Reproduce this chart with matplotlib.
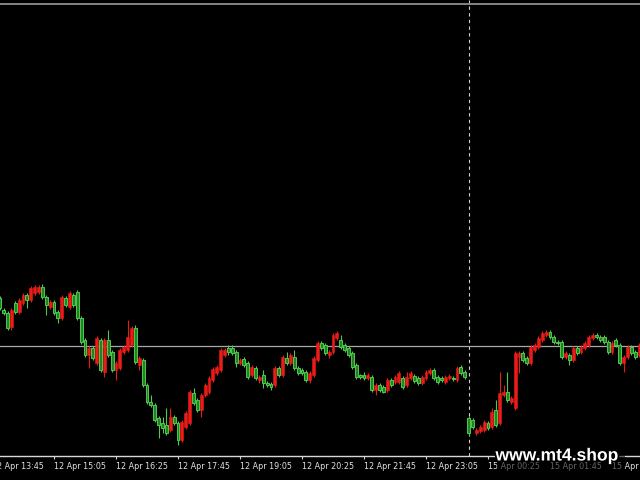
import matplotlib
matplotlib.use("Agg")
import matplotlib.pyplot as plt
import matplotlib.patheffects as pe
from matplotlib.patches import Rectangle
from matplotlib.transforms import blended_transform_factory

# 5 minute bars, index 0 = 12 Apr 13:45, price in points
first_bar = 2
open_ = [182, 170, 167, 153, 177, 168, 177, 185, 180, 187, 188, 193, 183, 173, 178, 168, 162, 182, 173, 185,
         188, 162, 140, 125, 132, 117, 140, 108, 140, 128, 110, 112, 128, 130, 135, 152, 115, 120, 95, 78,
         75, 62, 57, 55, 50, 63, 57, 40, 53, 57, 87, 80, 70, 85, 88, 100, 107, 110, 125, 132,
         132, 128, 117, 121, 117, 105, 112, 100, 105, 97, 96, 95, 112, 105, 122, 117, 123, 112, 110, 108,
         100, 105, 120, 137, 135, 125, 128, 142, 140, 135, 132, 127, 115, 105, 105, 102, 103, 90, 95, 93,
         90, 100, 98, 98, 102, 95, 102, 104, 102, 97, 102, 107, 110, 103, 102, 98, 102, 102, 100, 113,
         108, 62, 60, 47, 49, 50, 57, 53, 70, 57, 85, 88, 78, 72, 123, 127, 122, 117, 130, 133,
         140, 145, 148, 143, 138, 138, 123, 125, 120, 132, 128, 132, 135, 142, 145, 143, 143, 138, 128, 140,
         135, 117, 123, 133, 128, 125]
close = [172, 167, 152, 170, 168, 180, 185, 180, 192, 193, 193, 183, 175, 178, 167, 162, 183, 175, 187, 175,
         162, 138, 125, 132, 122, 142, 110, 140, 125, 110, 117, 130, 133, 143, 152, 118, 122, 95, 78, 75,
         60, 55, 52, 47, 63, 57, 40, 58, 67, 88, 77, 70, 85, 95, 102, 111, 113, 130, 130, 128,
         127, 117, 120, 115, 103, 113, 102, 103, 97, 95, 93, 112, 105, 123, 117, 125, 112, 107, 107, 100,
         107, 122, 137, 132, 127, 128, 145, 147, 133, 130, 125, 113, 103, 103, 102, 105, 90, 95, 90, 88,
         100, 95, 103, 107, 93, 103, 107, 99, 97, 103, 108, 110, 102, 98, 100, 103, 104, 101, 112, 107,
         103, 47, 53, 50, 53, 58, 52, 68, 55, 87, 88, 80, 82, 127, 127, 120, 117, 133, 135, 142,
         147, 148, 143, 138, 137, 123, 127, 120, 132, 127, 133, 137, 143, 145, 143, 140, 138, 128, 137, 135,
         117, 123, 133, 127, 123, 135]
high = [184, 172, 169, 172, 179, 182, 187, 187, 194, 195, 195, 196, 185, 180, 180, 170, 185, 184, 189, 187,
        190, 164, 142, 134, 134, 144, 142, 142, 150, 130, 119, 132, 135, 160, 154, 155, 124, 122, 97, 85,
        77, 64, 63, 72, 72, 65, 59, 60, 69, 90, 92, 82, 87, 97, 104, 113, 115, 132, 132, 135,
        135, 130, 122, 123, 119, 115, 114, 105, 110, 99, 98, 114, 114, 125, 128, 127, 130, 114, 112, 110,
        109, 124, 139, 139, 137, 130, 147, 149, 145, 137, 134, 129, 117, 106, 108, 107, 105, 97, 97, 95,
        102, 102, 105, 109, 104, 108, 109, 106, 104, 105, 110, 112, 112, 105, 104, 105, 106, 104, 114, 115,
        110, 64, 62, 52, 55, 60, 59, 72, 80, 108, 95, 108, 84, 129, 129, 129, 124, 135, 137, 144,
        149, 150, 150, 145, 140, 140, 129, 127, 134, 134, 135, 139, 145, 147, 147, 145, 145, 140, 139, 142,
        137, 125, 135, 135, 130, 137]
low = [170, 165, 150, 150, 166, 166, 175, 172, 178, 185, 186, 181, 165, 171, 165, 157, 160, 173, 171, 173,
       160, 136, 123, 112, 120, 115, 108, 103, 123, 108, 100, 110, 126, 128, 133, 116, 110, 93, 76, 73,
       58, 42, 47, 45, 48, 55, 35, 38, 51, 55, 75, 68, 63, 83, 86, 98, 105, 108, 123, 125,
       125, 113, 115, 113, 101, 103, 100, 97, 92, 93, 90, 93, 103, 103, 115, 115, 110, 105, 105, 98,
       97, 103, 118, 130, 125, 122, 126, 140, 131, 128, 123, 111, 101, 101, 100, 100, 88, 85, 88, 87,
       88, 93, 96, 96, 91, 93, 100, 97, 95, 95, 100, 105, 100, 96, 98, 96, 100, 99, 98, 105,
       101, 44, 51, 45, 47, 48, 50, 51, 53, 55, 83, 78, 76, 70, 107, 118, 115, 115, 128, 131,
       138, 143, 141, 136, 135, 121, 121, 115, 118, 125, 126, 130, 133, 140, 141, 138, 136, 126, 126, 133,
       115, 108, 121, 125, 121, 123]

level = 134
separator_bar = 123
tick_step = 16
tick_labels = ["12 Apr 13:45", "12 Apr 15:05", "12 Apr 16:25", "12 Apr 17:45", "12 Apr 19:05",
               "12 Apr 20:25", "12 Apr 21:45", "12 Apr 23:05", "15 Apr 00:25", "15 Apr 01:45",
               "15 Apr 03:05"]

up_color = "#ea1c17"
down_edge = "#4ccc4c"
down_fill = "#268026"

fig = plt.figure(figsize=(6.4, 4.8), dpi=100, facecolor="black")
ax = fig.add_axes([0, 24 / 480, 1, 456 / 480])
ax.set_facecolor("black")

# separator and level line
ax.axvline(separator_bar, color="#d0d0d0", lw=0.8, ls=(0, (3, 3)), zorder=1)
ax.axhline(level, color="#a8a8a8", lw=0.9, zorder=1)
ax.axhline(476.5, color="#9a9a9a", lw=1.2, zorder=1)

for k in range(len(open_)):
    x = first_bar + k
    o, c, h, l = open_[k], close[k], high[k], low[k]
    if c >= o:
        ax.vlines(x, l, h, color=up_color, lw=0.8, zorder=2)
        ax.add_patch(Rectangle((x - 0.38, o), 0.76, max(c - o, 1), facecolor=up_color,
                               edgecolor=up_color, lw=0.4, zorder=3))
    else:
        ax.vlines(x, l, h, color=down_edge, lw=0.8, zorder=2)
        ax.add_patch(Rectangle((x - 0.38, c), 0.76, max(o - c, 1), facecolor=down_fill,
                               edgecolor=down_edge, lw=0.7, zorder=3))

tick_pos = [i * tick_step for i in range(len(tick_labels))]
ax.set_xticks(tick_pos)
ax.set_xticklabels([])
ax.set_yticks([])
ax.set_xlim(8 / 3.875, 648 / 3.875)
ax.set_ylim(24, 480)
ax.tick_params(axis="x", direction="out", length=2.3, width=0.8, color="#d0d0d0")
for s in ["top", "left", "right"]:
    ax.spines[s].set_visible(False)
ax.spines["bottom"].set_color("#d8d8d8")
ax.spines["bottom"].set_linewidth(1.0)

trans = blended_transform_factory(ax.transData, ax.transAxes)
for p, lab in zip(tick_pos, tick_labels):
    ax.text(p, -0.013, lab, transform=trans, ha="left", va="top", fontsize=5.8,
            family="DejaVu Sans", color="#e2e2e2", clip_on=False)

# watermark
fig.patches.append(Rectangle((497 / 640, 6 / 480), 128 / 640, 31 / 480, transform=fig.transFigure,
                             facecolor="black", alpha=0.55, edgecolor="none", zorder=5))
fig.text(557 / 640, 24 / 480, "www.mt4.shop", ha="center", va="center", fontsize=12.6,
         family="Liberation Sans", weight="bold", color="white", zorder=6,
         path_effects=[pe.withStroke(linewidth=2.5, foreground="black")])

fig.savefig("out.png", dpi=100, facecolor="black")
